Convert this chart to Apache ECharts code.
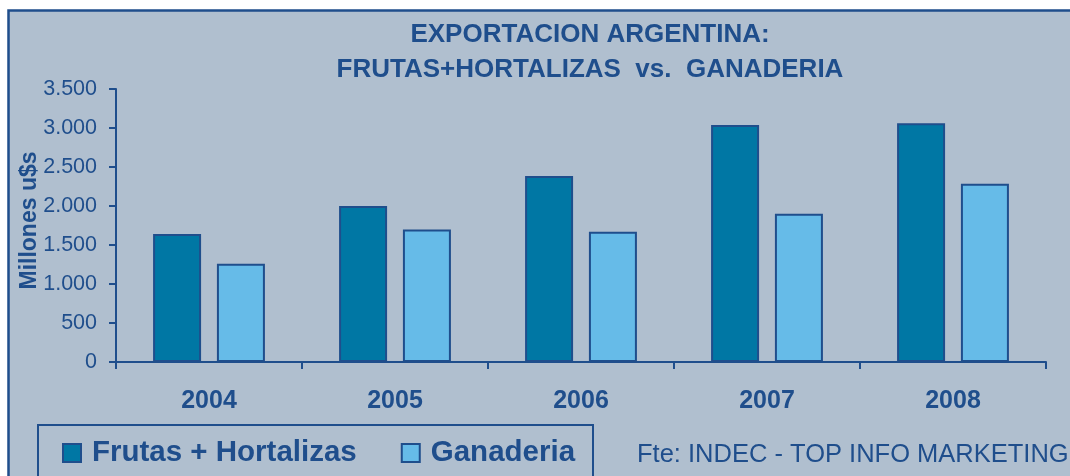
<!DOCTYPE html>
<html><head><meta charset="utf-8">
<script src="https://cdn.jsdelivr.net/npm/echarts@6/dist/echarts.min.js"></script>
<style>html,body{margin:0;padding:0;background:#fff}#c{width:1070px;height:476px}</style>
</head><body><div id="c"></div>
<script>
const categories = ['2004','2005','2006','2007','2008'];
const frutasHortalizas = [1640, 2000, 2385, 3040, 3060];
const ganaderia = [1260, 1700, 1670, 1900, 2285];
const yTicks = [0, 500, 1000, 1500, 2000, 2500, 3000, 3500];
const titleLines = ['EXPORTACION ARGENTINA:', 'FRUTAS+HORTALIZAS  vs.  GANADERIA'];
const source = 'Fte: INDEC - TOP INFO MARKETING';

const C = '#1f4e8c';
const F = 'Liberation Sans, Arial, sans-serif';
const chart = echarts.init(document.getElementById('c'));
chart.setOption({
  animation: false,
  backgroundColor: '#ffffff',
  textStyle: { fontFamily: F },
  title: [
    { text: titleLines[0], left: 590, top: 22, textAlign: 'center', padding: 0,
      textStyle: { color: C, fontSize: 26, fontWeight: 'bold', fontFamily: F } },
    { text: titleLines[1], left: 590, top: 57, textAlign: 'center', padding: 0,
      textStyle: { color: C, fontSize: 26, fontWeight: 'bold', fontFamily: F } }
  ],
  graphic: [
    { type: 'rect', z: -10, shape: { x: 8.5, y: 10.5, width: 1100, height: 500 },
      style: { fill: '#b0bfcf', stroke: C, lineWidth: 2.5 } },
    { type: 'rect', z: 10, shape: { x: 38, y: 425, width: 555, height: 70 },
      style: { fill: 'none', stroke: C, lineWidth: 2 } },
    { type: 'text', z: 10, left: 637, top: 442,
      style: { text: source, fill: C, font: '25.5px ' + F } }
  ],
  legend: {
    left: 62, top: 438, padding: 0, itemWidth: 18, itemHeight: 18, itemGap: 44,
    icon: 'rect',
    textStyle: { color: C, fontSize: 29.5, fontWeight: 'bold', fontFamily: F, padding: [0,0,0,6] },
    data: ['Frutas + Hortalizas', 'Ganaderia']
  },
  grid: { left: 116, top: 89, right: 24, bottom: 114, containLabel: false },
  xAxis: {
    type: 'category', data: categories,
    axisLine: { lineStyle: { color: C, width: 2 } },
    axisTick: { show: true, length: 7, lineStyle: { color: C, width: 2 } },
    axisLabel: { color: C, fontSize: 25, fontWeight: 'bold', margin: 27, fontFamily: F },
    splitLine: { show: false }
  },
  yAxis: {
    type: 'value', min: yTicks[0], max: yTicks[yTicks.length - 1], interval: 500,
    name: 'Millones u$s', nameLocation: 'middle', nameGap: 75, nameRotate: 90,
    nameMoveOverlap: false,
    nameTextStyle: { color: C, fontSize: 23, fontWeight: 'bold', fontFamily: F, padding: [0,0,0,10] },
    axisLine: { show: true, lineStyle: { color: C, width: 2 } },
    axisTick: { show: true, length: 7, lineStyle: { color: C, width: 2 } },
    axisLabel: { color: C, fontSize: 21.5, margin: 19, fontFamily: F,
      formatter: v => String(v).replace(/\B(?=(\d{3})+(?!\d))/g, '.') },
    splitLine: { show: false }
  },
  series: [
    { name: 'Frutas + Hortalizas', type: 'bar', data: frutasHortalizas,
      barWidth: 48, barGap: '33%',
      itemStyle: { color: '#0077a4', borderColor: C, borderWidth: 2 } },
    { name: 'Ganaderia', type: 'bar', data: ganaderia,
      barWidth: 48,
      itemStyle: { color: '#66bbe8', borderColor: C, borderWidth: 2 } }
  ]
});
</script></body></html>
